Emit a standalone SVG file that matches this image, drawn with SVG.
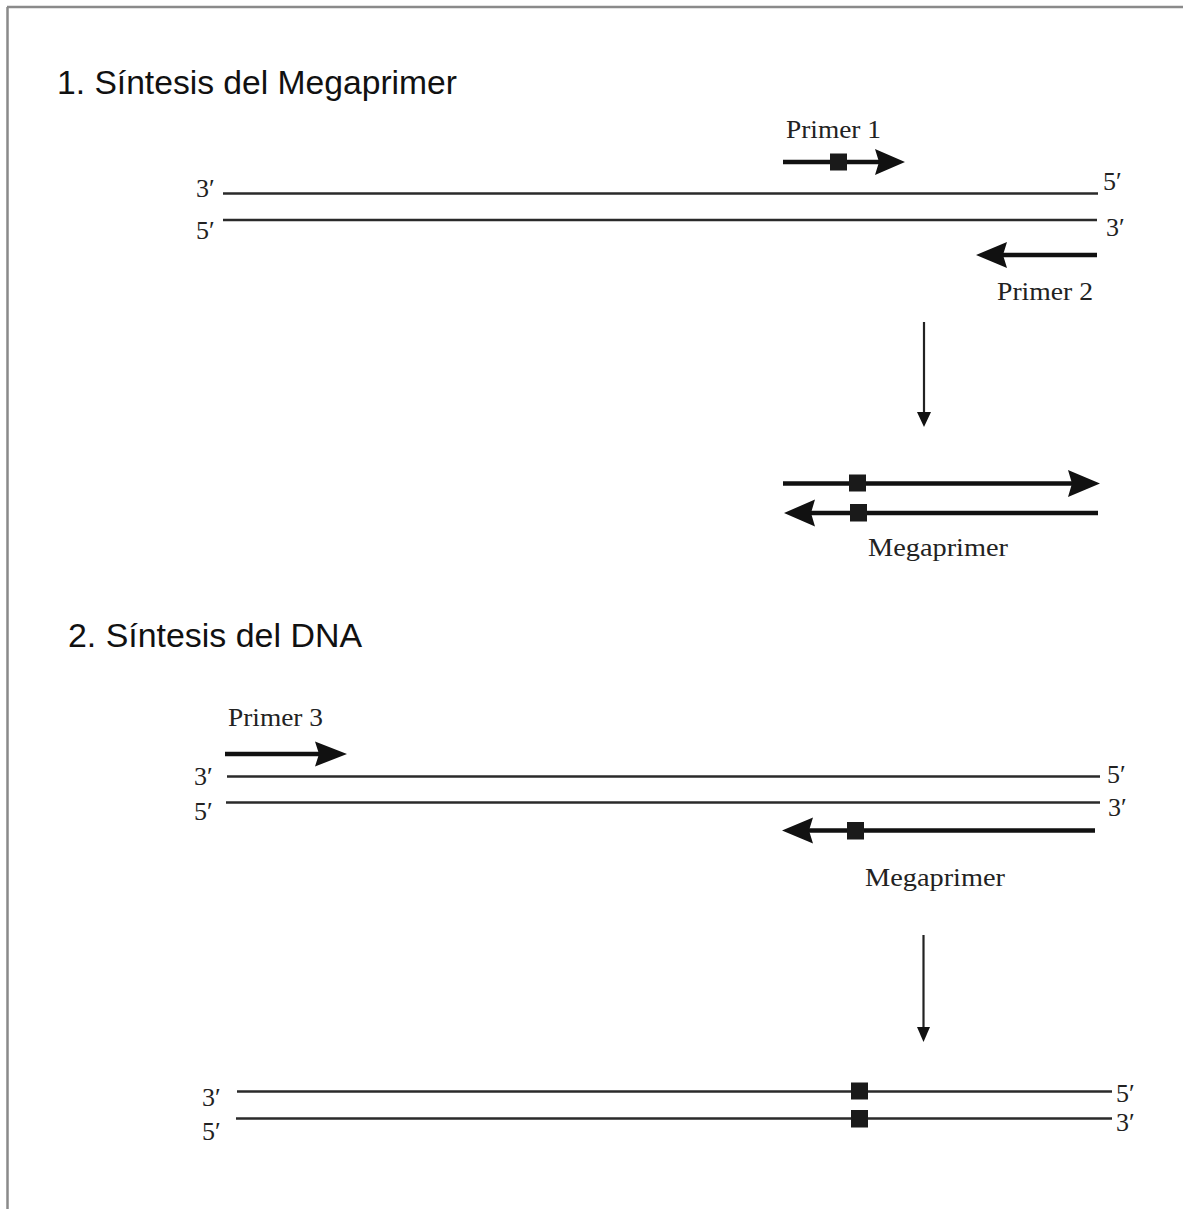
<svg xmlns="http://www.w3.org/2000/svg" width="1183" height="1209" viewBox="0 0 1183 1209">
<style>
.title{font-family:"Liberation Sans",Arial,sans-serif;font-size:33px;fill:#111}
.lbl{font-family:"Liberation Serif","Times New Roman",serif;font-size:25px;fill:#222}
.end{font-family:"Liberation Serif","Times New Roman",serif;font-size:26px;fill:#222}
.strand{stroke:#2a2a2a;stroke-width:2.4;fill:none}
.primer{stroke:#111;stroke-width:4.5;fill:none}
.thin{stroke:#222;stroke-width:2.2;fill:none}
.mut{fill:#1a1a1a}
.head{fill:#111}
</style>
<rect x="0" y="0" width="1183" height="1209" fill="#fff"/>
<g id="frame">
<line x1="7.5" y1="7" x2="7.5" y2="1209" stroke="#8a8a8a" stroke-width="2.5"/>
<line x1="7" y1="7" x2="1183" y2="7" stroke="#8a8a8a" stroke-width="2.5"/>
</g>
<g id="title1"><text class="title" x="57" y="94" textLength="400" lengthAdjust="spacingAndGlyphs">1. Síntesis del Megaprimer</text></g>
<g id="title2"><text class="title" x="68" y="647" textLength="294" lengthAdjust="spacingAndGlyphs">2. Síntesis del DNA</text></g>

<g id="dna1">
<line class="strand" x1="223" y1="193.5" x2="1098" y2="193.5"/>
<line class="strand" x1="223" y1="220" x2="1097" y2="220"/>
<text class="end" x="196" y="197">3′</text>
<text class="end" x="196" y="239">5′</text>
<text class="end" x="1103" y="190">5′</text>
<text class="end" x="1106" y="236">3′</text>
</g>

<g id="primer1">
<line class="primer" x1="783" y1="162" x2="880" y2="162"/>
<polygon class="head" points="875,149 905,162 875,175 879,162"/>
<rect class="mut" x="830" y="153.5" width="17" height="17"/>
<text class="lbl" x="786" y="138" textLength="95" lengthAdjust="spacingAndGlyphs">Primer 1</text>
</g>

<g id="primer2">
<line class="primer" x1="1097" y1="255" x2="1000" y2="255"/>
<polygon class="head" points="1007,242 976,255 1007,268 1003,255"/>
<text class="lbl" x="997" y="300" textLength="96" lengthAdjust="spacingAndGlyphs">Primer 2</text>
</g>

<g id="megaprimer1">
<line class="primer" x1="783" y1="483.5" x2="1075" y2="483.5"/>
<polygon class="head" points="1068,470 1100,483.5 1068,497 1072,483.5"/>
<rect class="mut" x="849" y="474.5" width="17" height="17"/>
<line class="primer" x1="1098" y1="513" x2="808" y2="513"/>
<polygon class="head" points="815,499.5 784,513 815,526.5 811,513"/>
<rect class="mut" x="850" y="504" width="17" height="17.5"/>
<text class="lbl" x="868" y="556" textLength="140" lengthAdjust="spacingAndGlyphs">Megaprimer</text>
</g>

<g id="dna2">
<line class="strand" x1="227" y1="776.5" x2="1100" y2="776.5"/>
<line class="strand" x1="226" y1="802.5" x2="1100" y2="802.5"/>
<text class="end" x="194" y="785">3′</text>
<text class="end" x="194" y="820">5′</text>
<text class="end" x="1107" y="783">5′</text>
<text class="end" x="1108" y="816">3′</text>
</g>

<g id="primer3">
<line class="primer" x1="225" y1="754" x2="320" y2="754"/>
<polygon class="head" points="315,741.5 347,754 315,766.5 319,754"/>
<text class="lbl" x="228" y="726" textLength="95" lengthAdjust="spacingAndGlyphs">Primer 3</text>
</g>

<g id="megaprimer2">
<line class="primer" x1="1095" y1="830.5" x2="806" y2="830.5"/>
<polygon class="head" points="813,817.5 782,830.5 813,843.5 809,830.5"/>
<rect class="mut" x="847" y="822" width="17" height="17.5"/>
<text class="lbl" x="865" y="886" textLength="140" lengthAdjust="spacingAndGlyphs">Megaprimer</text>
</g>

<g id="product">
<line class="strand" x1="237" y1="1091.5" x2="1112" y2="1091.5"/>
<line class="strand" x1="236" y1="1118.5" x2="1112" y2="1118.5"/>
<rect class="mut" x="851" y="1082.5" width="17" height="17"/>
<rect class="mut" x="851" y="1110" width="17" height="17.5"/>
<text class="end" x="202" y="1106">3′</text>
<text class="end" x="202" y="1140">5′</text>
<text class="end" x="1116" y="1102">5′</text>
<text class="end" x="1116" y="1131">3′</text>
</g>

<g id="connectors">
<line class="thin" x1="924" y1="322" x2="924" y2="415"/>
<polygon class="head" points="917,412 931,412 924,427"/>
<line class="thin" x1="923.5" y1="935" x2="923.5" y2="1030"/>
<polygon class="head" points="917,1027 930,1027 923.5,1042"/>
</g>
</svg>
